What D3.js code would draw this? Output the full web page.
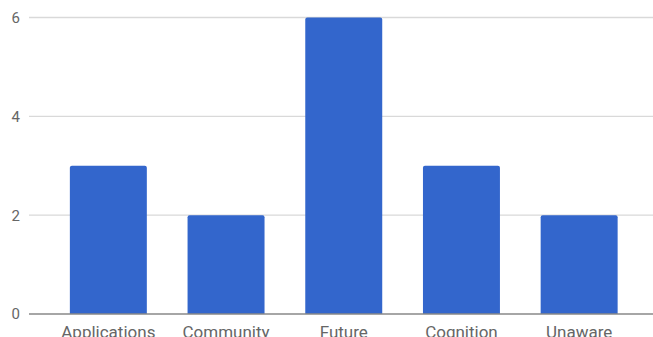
<!DOCTYPE html>
<meta charset="utf-8">
<style>
  body { margin: 0; background: #fff; }
  text { font-family: Roboto, "Noto Sans", sans-serif; }
</style>
<body>
<script src="https://cdn.jsdelivr.net/npm/d3@7"></script>
<script>
    var width = 653,
        height = 337;

    // chart data
    var categories = ["Applications", "Community", "Future", "Cognition", "Unaware"];
    var counts = [3, 2, 6, 3, 2];
    var yTicks = [0, 2, 4, 6];

    var x = d3.scaleBand()
        .domain(categories)
        .range([49.5, 638])
        .paddingInner(0.346)
        .paddingOuter(0.173);

    var y = d3.scaleLinear()
        .domain([0, 6])
        .range([314, 17.5]);

    var svg = d3.select('body')
        .append('svg')
        .attr('width', width)
        .attr('height', height);

    // gridlines
    svg.append('g')
        .selectAll('line')
        .data(yTicks.filter(d => d !== 0))
        .enter().append('line')
        .attr('x1', 29)
        .attr('x2', width)
        .attr('y1', d => y(d))
        .attr('y2', d => y(d))
        .attr('stroke', '#d9d9d9')
        .attr('stroke-width', 1.3);

    // y tick labels
    svg.append('g')
        .selectAll('text')
        .data(yTicks)
        .enter().append('text')
        .attr('x', 20)
        .attr('y', d => y(d))
        .attr('dy', '0.36em')
        .attr('text-anchor', 'end')
        .attr('fill', '#666')
        .style('font-size', '15px')
        .text(d => d);

    // bars, slightly rounded on top
    svg.append('g')
        .selectAll('path')
        .data(categories)
        .enter().append('path')
        .attr('fill', '#3366cc')
        .attr('d', (d, i) => {
            var x0 = x(d), w = x.bandwidth(), y0 = y(counts[i]), y1 = y(0), r = 2;
            return 'M' + x0 + ',' + y1 +
                'V' + (y0 + r) +
                'Q' + x0 + ',' + y0 + ' ' + (x0 + r) + ',' + y0 +
                'H' + (x0 + w - r) +
                'Q' + (x0 + w) + ',' + y0 + ' ' + (x0 + w) + ',' + (y0 + r) +
                'V' + y1 + 'Z';
        });

    // baseline
    svg.append('line')
        .attr('x1', 29)
        .attr('x2', width)
        .attr('y1', y(0))
        .attr('y2', y(0))
        .attr('stroke', '#888')
        .attr('stroke-width', 1.5);

    // x labels (cut off at the bottom edge, as in the source)
    svg.append('g')
        .selectAll('text')
        .data(categories)
        .enter().append('text')
        .attr('x', d => x(d) + x.bandwidth() / 2)
        .attr('y', 337.5)
        .attr('text-anchor', 'middle')
        .attr('fill', '#666')
        .style('font-size', '17px')
        .text(d => d);
</script>
</body>
